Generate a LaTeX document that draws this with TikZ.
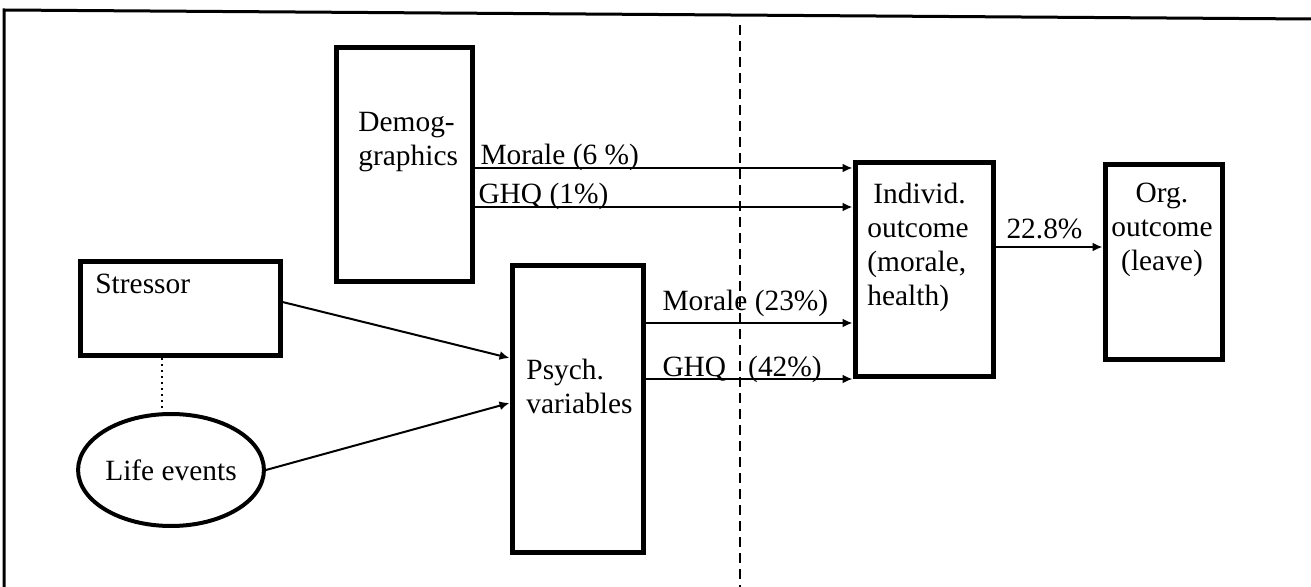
\documentclass[tikz,border=0pt]{standalone}
\usepackage{fontspec}
\setmainfont{Liberation Serif}
\usetikzlibrary{arrows.meta,shapes.geometric,calc}

\begin{document}
\begin{tikzpicture}[x=0.5pt,y=-0.5pt,
    every node/.style={font=\fontsize{14.7}{17}\selectfont},
    box/.style={draw, line width=2.5pt, inner sep=0pt},
    txt/.style={inner sep=0pt, align=left, anchor=north west},
    lbl/.style={inner sep=0pt, anchor=base west},
    arr/.style={line width=1pt, -{Latex[length=5pt,width=4.5pt]}}]
    \useasboundingbox (0,0) rectangle (1311,587);
    \draw[line width=1.5pt] (1311,19) -- (4,10) -- (4,587);
    \draw[line width=0.7pt, dash pattern=on 5pt off 3pt] (740,25) -- (740,587);

    \node[box, minimum width=68pt, minimum height=117pt] (demog) at (404,165) {};
    \node[box, minimum width=100pt, minimum height=47pt] (stressor) at (180,309) {};
    \node[box, minimum width=65.5pt, minimum height=143pt] (psych) at (577.5,409) {};
    \node[box, minimum width=69pt, minimum height=107pt] (individ) at (924,270) {};
    \node[box, minimum width=58.5pt, minimum height=97.5pt] (org) at (1163.5,262.5) {};
    \node[box, ellipse, line width=2pt, minimum width=88.5pt, minimum height=56pt] (lifeev) at (171,470) {Life events};

    \node[txt] (demogtxt) at (358,112) {Demog-\\graphics};
    \node[txt] (stressortxt) at (95,274) {Stressor};
    \node[txt] (psychtxt) at (526,359) {Psych.\\variables};
    \node[txt] (individtxt) at (867,183) {\hspace{3pt}Individ.\\outcome\\(morale,\\health)};
    \node[txt, align=center, anchor=north] (orgtxt) at (1162,183) {Org.\\outcome\\(leave)};

    % demographics -> individual outcome
    \draw[arr] ([yshift=-1.5pt]demog.east) -- ([yshift=-1.5pt]demog.east -| individ.west)
        node[lbl, pos=0, xshift=2.5pt, yshift=1.5pt] (lblmor6) {Morale (6 \%)};
    \draw[arr] ([yshift=-21pt]demog.east) -- ([yshift=-21pt]demog.east -| individ.west)
        node[lbl, pos=0, xshift=1.5pt, yshift=1.5pt] (lblghq1) {GHQ (1\%)};

    % psych. variables -> individual outcome
    \draw[arr] ([yshift=43pt]psych.east) -- ([yshift=43pt]psych.east -| individ.west)
        node[lbl, pos=0, xshift=8pt, yshift=6pt] (lblmor23) {Morale (23\%)};
    \draw[arr] ([yshift=15pt]psych.east) -- ([yshift=15pt]psych.east -| individ.west)
        node[lbl, pos=0, xshift=8pt, yshift=1pt] (lblghq42) {GHQ~~~(42\%)};

    \draw[arr] ([yshift=11.5pt]individ.east) -- ([yshift=11.5pt]individ.east -| org.west)
        node[lbl, pos=0, xshift=5pt, yshift=4pt] (lblleave) {22.8\%};

    % stressor and life events -> psych. variables
    \draw[arr] ([yshift=3.5pt]stressor.east) -- ([yshift=25.5pt]psych.west);
    \draw[arr] (lifeev.east) -- ([yshift=3pt]psych.west);
    \draw[line width=1pt, dotted] ([xshift=-9pt]stressor.south) -- ([xshift=-9pt]stressor.south |- lifeev.north);
\end{tikzpicture}
\end{document}
